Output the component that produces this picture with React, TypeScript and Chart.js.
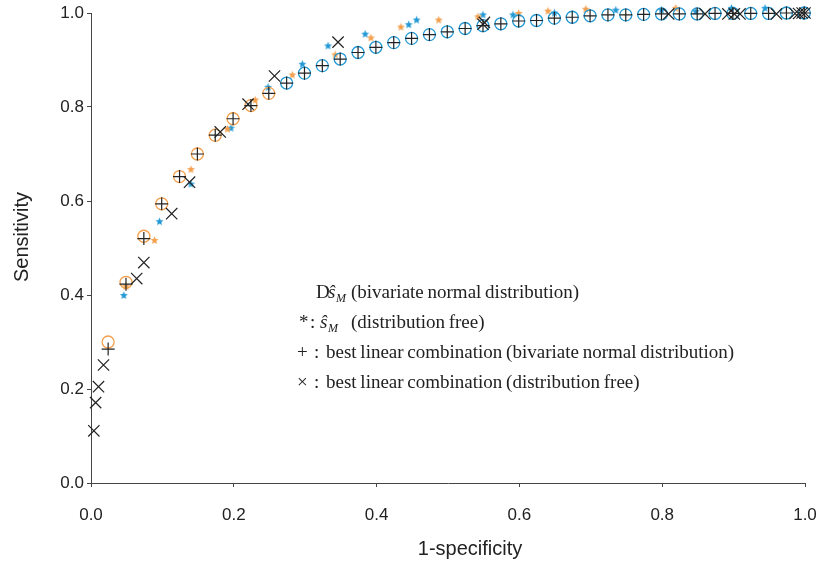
import React, { useEffect, useRef } from "react";
import { Chart, registerables } from "chart.js";

Chart.register(...registerables);

// ŝ_M, bivariate normal distribution (circles)
const circleOrangeX = [0.024, 0.049, 0.074, 0.099, 0.124, 0.149, 0.174, 0.199, 0.224, 0.249];
const circleOrangeY = [0.300, 0.427, 0.525, 0.594, 0.652, 0.700, 0.740, 0.775, 0.803, 0.829];
const circleBlueX = [0.274, 0.299, 0.324, 0.349, 0.374, 0.399, 0.424, 0.449, 0.474, 0.499, 0.524, 0.549, 0.574, 0.599, 0.624, 0.649, 0.674, 0.699, 0.724, 0.749, 0.774, 0.799, 0.824, 0.849, 0.874, 0.899, 0.924, 0.949, 0.974, 0.999];
const circleBlueY = [0.851, 0.872, 0.888, 0.902, 0.916, 0.927, 0.937, 0.946, 0.954, 0.960, 0.967, 0.973, 0.977, 0.983, 0.984, 0.989, 0.991, 0.994, 0.996, 0.996, 0.997, 0.998, 0.998, 0.998, 0.999, 0.999, 0.999, 0.999, 1.0, 1.0];

// best linear combination, bivariate normal distribution (+)
const plusX = [0.024, 0.049, 0.074, 0.099, 0.124, 0.149, 0.174, 0.199, 0.224, 0.249, 0.274, 0.299, 0.324, 0.349, 0.374, 0.399, 0.424, 0.449, 0.474, 0.499, 0.524, 0.549, 0.574, 0.599, 0.624, 0.649, 0.674, 0.699, 0.724, 0.749, 0.774, 0.799, 0.824, 0.849, 0.874, 0.899, 0.924, 0.949, 0.974, 0.999];
const plusY = [0.285, 0.423, 0.520, 0.594, 0.652, 0.700, 0.740, 0.775, 0.803, 0.829, 0.851, 0.872, 0.888, 0.902, 0.916, 0.927, 0.937, 0.946, 0.954, 0.960, 0.967, 0.973, 0.977, 0.983, 0.984, 0.989, 0.991, 0.994, 0.996, 0.996, 0.997, 0.998, 0.998, 0.998, 0.999, 0.999, 0.999, 0.999, 1.0, 1.0];

// best linear combination, distribution free (×)
const crossX = [0.004, 0.0065, 0.0105, 0.0175, 0.064, 0.074, 0.113, 0.138, 0.181, 0.220, 0.257, 0.346, 0.549, 0.551, 0.809, 0.860, 0.892, 0.901, 0.909, 0.960, 0.986, 0.991, 0.996, 1.0];
const crossY = [0.111, 0.171, 0.205, 0.251, 0.435, 0.469, 0.573, 0.640, 0.747, 0.806, 0.866, 0.938, 0.976, 0.980, 0.998, 0.998, 0.998, 0.998, 0.998, 0.998, 0.999, 0.999, 1.0, 1.0];

// ŝ_M, distribution free (*)
const starOrangeX = [0.049, 0.089, 0.140, 0.191, 0.230, 0.282, 0.342, 0.392, 0.434, 0.487, 0.542, 0.599, 0.640, 0.693, 0.731, 0.793, 0.819, 0.872, 0.936];
const starOrangeY = [0.418, 0.516, 0.667, 0.753, 0.815, 0.868, 0.911, 0.947, 0.970, 0.985, 0.992, 0.999, 1.004, 1.008, 1.011, 1.012, 1.010, 1.011, 1.011];
const starBlueX = [0.046, 0.096, 0.140, 0.196, 0.248, 0.296, 0.332, 0.384, 0.445, 0.456, 0.549, 0.591, 0.649, 0.735, 0.799, 0.847, 0.897, 0.944];
const starBlueY = [0.399, 0.556, 0.636, 0.755, 0.842, 0.891, 0.930, 0.955, 0.975, 0.985, 0.996, 0.996, 1.000, 1.006, 1.006, 1.003, 1.010, 1.010];

const xTicks = [0, 0.2, 0.4, 0.6, 0.8, 1.0];
const yTicks = [0, 0.2, 0.4, 0.6, 0.8, 1.0];

const ORANGE = "#F4A04E";
const BLUE = "#2399D4";
const BLACK = "#222222";
const AXIS = "#444444";

const pts = (xs: number[], ys: number[]) => xs.map((x, i) => ({ x, y: ys[i] }));

function makeStar(color: string, r: number): HTMLCanvasElement {
  const c = document.createElement("canvas");
  const s = Math.ceil(r * 2 + 2);
  c.width = s;
  c.height = s;
  const ctx = c.getContext("2d")!;
  const cx = s / 2, cy = s / 2;
  ctx.beginPath();
  for (let i = 0; i < 10; i++) {
    const rad = i % 2 === 0 ? r : r * 0.45;
    const a = -Math.PI / 2 + (i * Math.PI) / 5;
    const px = cx + rad * Math.cos(a);
    const py = cy + rad * Math.sin(a);
    if (i === 0) ctx.moveTo(px, py);
    else ctx.lineTo(px, py);
  }
  ctx.closePath();
  ctx.fillStyle = color;
  ctx.fill();
  return c;
}

const SANS = "'Liberation Sans', Arial, sans-serif";
const SERIF = "'Liberation Serif', 'Times New Roman', serif";

const textPlugin = {
  id: "customText",
  afterDraw(chart: any) {
    const ctx = chart.ctx as CanvasRenderingContext2D;
    ctx.save();
    ctx.fillStyle = BLACK;
    // axis titles
    ctx.font = `20px ${SANS}`;
    ctx.textAlign = "center";
    ctx.textBaseline = "middle";
    ctx.fillText("1-specificity", 470, 549);
    ctx.save();
    ctx.translate(22, 237);
    ctx.rotate(-Math.PI / 2);
    ctx.fillText("Sensitivity", 0, 0);
    ctx.restore();

    // legend text
    ctx.textAlign = "left";
    ctx.textBaseline = "alphabetic";
    (ctx as any).wordSpacing = "-1px";
    const roman = `19px ${SERIF}`;
    const ital = `italic 19px ${SERIF}`;
    const sub = `italic 12px ${SERIF}`;
    const base = [298, 328, 358, 388];

    // line 1
    ctx.font = roman;
    ctx.fillText("D", 316, base[0]);
    ctx.font = ital;
    ctx.fillText("ŝ", 328, base[0]);
    ctx.font = sub;
    ctx.fillText("M", 336, base[0] + 4);
    ctx.font = roman;
    ctx.fillText("(bivariate normal distribution)", 351, base[0]);

    // line 2
    ctx.fillText("*", 299, base[1]);
    ctx.fillText(":", 310, base[1]);
    ctx.font = ital;
    ctx.fillText("ŝ", 320, base[1]);
    ctx.font = sub;
    ctx.fillText("M", 328, base[1] + 4);
    ctx.font = roman;
    ctx.fillText("(distribution free)", 351, base[1]);

    // line 3
    ctx.fillText("+", 297, base[2]);
    ctx.fillText(":", 314, base[2]);
    ctx.fillText("best linear combination (bivariate normal distribution)", 326, base[2]);

    // line 4
    ctx.fillText("×", 297, base[3]);
    ctx.fillText(":", 314, base[3]);
    ctx.fillText("best linear combination (distribution free)", 326, base[3]);
    ctx.restore();
  },
};

export default function App() {
  const ref = useRef<HTMLCanvasElement | null>(null);

  useEffect(() => {
    if (!ref.current) return;
    const starO = makeStar(ORANGE, 4.2);
    const starB = makeStar(BLUE, 4.2);
    const chart = new Chart(ref.current, {
      type: "scatter",
      data: {
        datasets: [
          {
            label: "× best linear combination (distribution free)",
            data: pts(crossX, crossY),
            pointStyle: "crossRot",
            pointRadius: 8,
            borderColor: BLACK,
            pointBorderWidth: 1.2,
            clip: false,
          },
          {
            label: "+ best linear combination (bivariate normal)",
            data: pts(plusX, plusY),
            pointStyle: "cross",
            pointRadius: 6.5,
            borderColor: BLACK,
            pointBorderWidth: 1.2,
            clip: false,
          },
          {
            label: "ŝM bivariate normal (orange)",
            data: pts(circleOrangeX, circleOrangeY),
            pointStyle: "circle",
            pointRadius: 6,
            backgroundColor: "rgba(0,0,0,0)",
            borderColor: ORANGE,
            pointBorderWidth: 1.3,
            clip: false,
          },
          {
            label: "ŝM bivariate normal (blue)",
            data: pts(circleBlueX, circleBlueY),
            pointStyle: "circle",
            pointRadius: 6,
            backgroundColor: "rgba(0,0,0,0)",
            borderColor: BLUE,
            pointBorderWidth: 1.3,
            clip: false,
          },
          {
            label: "ŝM distribution free (orange)",
            data: pts(starOrangeX, starOrangeY),
            pointStyle: starO,
            pointRadius: 4,
            clip: false,
          },
          {
            label: "ŝM distribution free (blue)",
            data: pts(starBlueX, starBlueY),
            pointStyle: starB,
            pointRadius: 4,
            clip: false,
          },
        ],
      },
      options: {
        animation: false,
        responsive: false,
        maintainAspectRatio: false,
        events: [],
        layout: { autoPadding: false, padding: { top: 13, right: 15, left: 0, bottom: 0 } },
        plugins: { legend: { display: false }, tooltip: { enabled: false } },
        scales: {
          x: {
            type: "linear",
            min: 0,
            max: 1,
            afterFit: (s: any) => { s.height = 85; s.paddingLeft = 0; s.paddingRight = 0; },
            afterBuildTicks: (s: any) => { s.ticks = xTicks.map((v) => ({ value: v })); },
            ticks: {
              padding: 18,
              color: BLACK,
              font: { family: SANS, size: 17 },
              callback: (v: any) => Number(v).toFixed(1),
              maxRotation: 0,
            },
            grid: { drawOnChartArea: false, drawTicks: true, tickLength: 4, color: AXIS },
            border: { display: true, color: AXIS, width: 1 },
          },
          y: {
            type: "linear",
            min: 0,
            max: 1,
            afterFit: (s: any) => { s.width = 91; s.paddingTop = 0; s.paddingBottom = 0; },
            afterBuildTicks: (s: any) => { s.ticks = yTicks.map((v) => ({ value: v })); },
            ticks: {
              padding: 3,
              color: BLACK,
              font: { family: SANS, size: 17 },
              callback: (v: any) => Number(v).toFixed(1),
            },
            grid: { drawOnChartArea: false, drawTicks: true, tickLength: 4, color: AXIS },
            border: { display: true, color: AXIS, width: 1 },
          },
        },
      },
      plugins: [textPlugin],
    });
    return () => chart.destroy();
  }, []);

  return (
    <div style={{ position: "fixed", left: 0, top: 0, width: 820, height: 568, background: "#fff" }}>
      <canvas ref={ref} width={820} height={568} style={{ width: 820, height: 568, display: "block" }} />
    </div>
  );
}
